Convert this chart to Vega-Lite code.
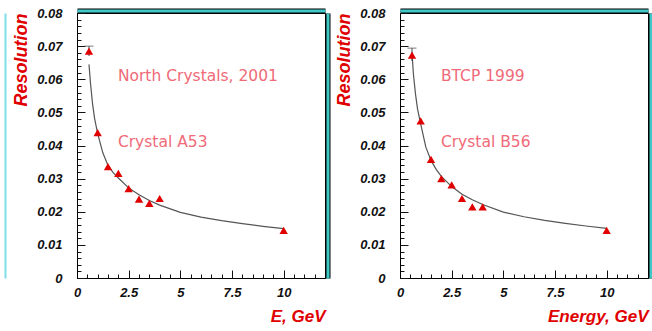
{
  "$schema": "https://vega.github.io/schema/vega-lite/v6.json",
  "background": "white",
  "padding": {"left": 4, "top": 6, "right": 2, "bottom": 2},
  "spacing": 7,
  "config": {
    "view": {"stroke": "#000", "strokeWidth": 1},
    "axis": {"labelFont": "Liberation Sans", "labelFontStyle": "italic", "labelFontWeight": "bold", "labelFontSize": 13, "labelColor": "#111", "titleFont": "Liberation Sans", "titleFontStyle": "italic", "titleFontWeight": "bold", "titleColor": "#e00000", "domainColor": "#000", "labelOverlap": false, "labelFlush": false}
  },
  "hconcat": [
    {
      "width": 248, "height": 265,
      "resolve": {"axis": {"x": "independent", "y": "independent"}},
      "layer": [
        {
          "data": {"values": [{"E":0.58,"R":0.0645},{"E":0.65,"R":0.0590},{"E":0.75,"R":0.0527},{"E":0.85,"R":0.0482},{"E":1.0,"R":0.0436},{"E":1.25,"R":0.0378},{"E":1.5,"R":0.0340},{"E":1.75,"R":0.0318},{"E":2.0,"R":0.0302},{"E":2.5,"R":0.0272},{"E":3.0,"R":0.0251},{"E":3.5,"R":0.0234},{"E":4.0,"R":0.0220},{"E":5.0,"R":0.0198},{"E":6.0,"R":0.0184},{"E":7.0,"R":0.0173},{"E":8.0,"R":0.0164},{"E":9.0,"R":0.0156},{"E":10.0,"R":0.0149}]},
          "mark": {"type": "line", "color": "#555", "strokeWidth": 1.2},
          "encoding": {
            "x": {"field": "E", "type": "quantitative", "scale": {"domain": [0, 12], "nice": false},
              "axis": {"orient": "bottom", "grid": false, "title": "E, GeV", "titleAnchor": "end", "titleFontSize": 17, "titlePadding": 9,
                "values": [0, 2.5, 5, 7.5, 10],
                "labelExpr": "format(datum.value, '~g')",
                "tickSize": 0,
                "labelPadding": 8}},
            "y": {"field": "R", "type": "quantitative", "scale": {"domain": [0, 0.08], "nice": false},
              "axis": {"orient": "left", "grid": false, "title": "Resolution", "titleAnchor": "end", "titleFontSize": 18, "titlePadding": 6,
                "values": [0, 0.01, 0.02, 0.03, 0.04, 0.05, 0.06, 0.07, 0.08],
                "labelExpr": "datum.value == 0 ? '0' : format(datum.value, '.2f')",
                "tickSize": 0,
                "labelPadding": 15}}
          }
        },
        {
          "data": {"values": [{"E":1,"R":0.01}]},
          "mark": {"type": "point", "opacity": 0},
          "encoding": {
            "x": {"field": "E", "type": "quantitative", "scale": {"domain": [0, 12], "nice": false},
              "axis": {"orient": "top", "gridOpacity": 0, "offset": -265, "values": [0,0.5,1,1.5,2,2.5,3,3.5,4,4.5,5,5.5,6,6.5,7,7.5,8,8.5,9,9.5,10,10.5,11,11.5,12], "labels": false, "domain": false, "title": null, "ticks": true, "tickSize": 4, "tickColor": "#111", "tickWidth": 1}},
            "y": {"field": "R", "type": "quantitative", "scale": {"domain": [0, 0.08], "nice": false},
              "axis": {"orient": "right", "gridOpacity": 0, "offset": -248, "values": [0,0.002,0.004,0.006,0.008,0.01,0.012,0.014,0.016,0.018,0.02,0.022,0.024,0.026,0.028,0.03,0.032,0.034,0.036,0.038,0.04,0.042,0.044,0.046,0.048,0.05,0.052,0.054,0.056,0.058,0.06,0.062,0.064,0.066,0.068,0.07,0.072,0.074,0.076,0.078,0.08], "labels": false, "domain": false, "title": null, "ticks": true, "tickSize": 4, "tickColor": "#111", "tickWidth": 1}}
          }
        },
        {
          "data": {"values": [{"E":1,"R":0.01}]},
          "mark": {"type": "point", "opacity": 0},
          "encoding": {
            "x": {"field": "E", "type": "quantitative", "scale": {"domain": [0, 12], "nice": false},
              "axis": {"orient": "top", "gridOpacity": 0, "offset": -265, "values": [0, 2.5, 5, 7.5, 10], "labels": false, "domain": false, "title": null, "ticks": true, "tickSize": 8, "tickColor": "#111", "tickWidth": 1}},
            "y": {"field": "R", "type": "quantitative", "scale": {"domain": [0, 0.08], "nice": false},
              "axis": {"orient": "right", "gridOpacity": 0, "offset": -248, "values": [0, 0.01, 0.02, 0.03, 0.04, 0.05, 0.06, 0.07, 0.08], "labels": false, "domain": false, "title": null, "ticks": true, "tickSize": 8, "tickColor": "#111", "tickWidth": 1}}
          }
        },
        {
          "data": {"values": [{"E":0.58,"lo":0.0670,"hi":0.0700}]},
          "mark": {"type": "rule", "color": "#444", "strokeWidth": 1},
          "encoding": {
            "x": {"field": "E", "type": "quantitative", "scale": {"domain": [0, 12], "nice": false}, "axis": null},
            "y": {"field": "lo", "type": "quantitative", "scale": {"domain": [0, 0.08], "nice": false}, "axis": null},
            "y2": {"field": "hi"}
          }
        },
        {
          "data": {"values": [{"E":0.58,"hi":0.0700}]},
          "mark": {"type": "tick", "orient": "horizontal", "color": "#444", "size": 9, "thickness": 1},
          "encoding": {
            "x": {"field": "E", "type": "quantitative", "scale": {"domain": [0, 12], "nice": false}, "axis": null},
            "y": {"field": "hi", "type": "quantitative", "scale": {"domain": [0, 0.08], "nice": false}, "axis": null}
          }
        },
        {
          "data": {"values": [{"E":0.58,"R":0.0685},{"E":1.0,"R":0.0439},{"E":1.5,"R":0.0336},{"E":2.0,"R":0.0316},{"E":2.5,"R":0.0270},{"E":3.0,"R":0.0238},{"E":3.5,"R":0.0225},{"E":4.0,"R":0.0240},{"E":10.0,"R":0.0144}]},
          "mark": {"type": "point", "shape": "triangle-up", "filled": true, "color": "#e00000", "size": 70, "opacity": 1},
          "encoding": {
            "x": {"field": "E", "type": "quantitative", "scale": {"domain": [0, 12], "nice": false}, "axis": null},
            "y": {"field": "R", "type": "quantitative", "scale": {"domain": [0, 0.08], "nice": false}, "axis": null}
          }
        },
        {
          "data": {"values": [{"E":1.98,"R":0.061,"label":"North Crystals, 2001"},{"E":1.98,"R":0.0411,"label":"Crystal A53"}]},
          "mark": {"type": "text", "align": "left", "baseline": "middle", "font": "DejaVu Sans", "fontSize": 15.5, "color": "#f06a78"},
          "encoding": {
            "x": {"field": "E", "type": "quantitative", "scale": {"domain": [0, 12], "nice": false}, "axis": null},
            "y": {"field": "R", "type": "quantitative", "scale": {"domain": [0, 0.08], "nice": false}, "axis": null},
            "text": {"field": "label"}
          }
        },
        {
          "data": {"values": [{"E":1,"R":0.01}]},
          "mark": {"type": "point", "opacity": 0},
          "encoding": {
            "x": {"field": "E", "type": "quantitative", "scale": {"domain": [0, 12], "nice": false},
              "axis": {"orient": "bottom", "grid": false, "values": [], "title": null, "domainColor": "#000", "domainWidth": 5, "offset": -267.5}},
            "y": {"field": "R", "type": "quantitative", "scale": {"domain": [0, 0.08], "nice": false},
              "axis": {"orient": "left", "grid": false, "values": [], "title": null, "domainColor": "#000", "domainWidth": 5, "offset": -250.5}}
          }
        },
        {
          "data": {"values": [{"E":1,"R":0.01}]},
          "mark": {"type": "point", "opacity": 0},
          "encoding": {
            "x": {"field": "E", "type": "quantitative", "scale": {"domain": [0, 12], "nice": false},
              "axis": {"orient": "bottom", "grid": false, "values": [], "title": null, "domainColor": "#40c8c8", "domainWidth": 3, "offset": -267.5}},
            "y": {"field": "R", "type": "quantitative", "scale": {"domain": [0, 0.08], "nice": false},
              "axis": {"orient": "left", "grid": false, "values": [], "title": null, "domainColor": "#40c8c8", "domainWidth": 3, "offset": -250.5}}
          }
        },
        {
          "data": {"values": [{"E":1,"R":0.01}]},
          "mark": {"type": "point", "opacity": 0},
          "encoding": {
            "x": {"field": "E", "type": "quantitative", "scale": {"domain": [0, 12], "nice": false}, "axis": null},
            "y": {"field": "R", "type": "quantitative", "scale": {"domain": [0, 0.08], "nice": false},
              "axis": {"orient": "left", "grid": false, "values": [], "title": null, "domainColor": "#7fdfe8", "domainWidth": 2, "offset": 72}}
          }
        }
      ]
    },
    {
      "width": 248, "height": 265,
      "resolve": {"axis": {"x": "independent", "y": "independent"}},
      "layer": [
        {
          "data": {"values": [{"E":0.58,"R":0.0680},{"E":0.65,"R":0.0615},{"E":0.75,"R":0.0555},{"E":0.85,"R":0.0510},{"E":1.0,"R":0.0465},{"E":1.25,"R":0.0395},{"E":1.5,"R":0.0355},{"E":1.75,"R":0.0328},{"E":2.0,"R":0.0307},{"E":2.5,"R":0.0276},{"E":3.0,"R":0.0253},{"E":3.5,"R":0.0236},{"E":4.0,"R":0.0222},{"E":5.0,"R":0.0199},{"E":6.0,"R":0.0185},{"E":7.0,"R":0.0174},{"E":8.0,"R":0.0165},{"E":9.0,"R":0.0157},{"E":10.0,"R":0.0150}]},
          "mark": {"type": "line", "color": "#555", "strokeWidth": 1.2},
          "encoding": {
            "x": {"field": "E", "type": "quantitative", "scale": {"domain": [0, 12], "nice": false},
              "axis": {"orient": "bottom", "grid": false, "title": "Energy, GeV", "titleAnchor": "end", "titleFontSize": 17, "titlePadding": 9,
                "values": [0, 2.5, 5, 7.5, 10],
                "labelExpr": "format(datum.value, '~g')",
                "tickSize": 0,
                "labelPadding": 8}},
            "y": {"field": "R", "type": "quantitative", "scale": {"domain": [0, 0.08], "nice": false},
              "axis": {"orient": "left", "grid": false, "title": "Resolution", "titleAnchor": "end", "titleFontSize": 18, "titlePadding": 6,
                "values": [0, 0.01, 0.02, 0.03, 0.04, 0.05, 0.06, 0.07, 0.08],
                "labelExpr": "datum.value == 0 ? '0' : format(datum.value, '.2f')",
                "tickSize": 0,
                "labelPadding": 15}}
          }
        },
        {
          "data": {"values": [{"E":1,"R":0.01}]},
          "mark": {"type": "point", "opacity": 0},
          "encoding": {
            "x": {"field": "E", "type": "quantitative", "scale": {"domain": [0, 12], "nice": false},
              "axis": {"orient": "top", "gridOpacity": 0, "offset": -265, "values": [0,0.5,1,1.5,2,2.5,3,3.5,4,4.5,5,5.5,6,6.5,7,7.5,8,8.5,9,9.5,10,10.5,11,11.5,12], "labels": false, "domain": false, "title": null, "ticks": true, "tickSize": 4, "tickColor": "#111", "tickWidth": 1}},
            "y": {"field": "R", "type": "quantitative", "scale": {"domain": [0, 0.08], "nice": false},
              "axis": {"orient": "right", "gridOpacity": 0, "offset": -248, "values": [0,0.002,0.004,0.006,0.008,0.01,0.012,0.014,0.016,0.018,0.02,0.022,0.024,0.026,0.028,0.03,0.032,0.034,0.036,0.038,0.04,0.042,0.044,0.046,0.048,0.05,0.052,0.054,0.056,0.058,0.06,0.062,0.064,0.066,0.068,0.07,0.072,0.074,0.076,0.078,0.08], "labels": false, "domain": false, "title": null, "ticks": true, "tickSize": 4, "tickColor": "#111", "tickWidth": 1}}
          }
        },
        {
          "data": {"values": [{"E":1,"R":0.01}]},
          "mark": {"type": "point", "opacity": 0},
          "encoding": {
            "x": {"field": "E", "type": "quantitative", "scale": {"domain": [0, 12], "nice": false},
              "axis": {"orient": "top", "gridOpacity": 0, "offset": -265, "values": [0, 2.5, 5, 7.5, 10], "labels": false, "domain": false, "title": null, "ticks": true, "tickSize": 8, "tickColor": "#111", "tickWidth": 1}},
            "y": {"field": "R", "type": "quantitative", "scale": {"domain": [0, 0.08], "nice": false},
              "axis": {"orient": "right", "gridOpacity": 0, "offset": -248, "values": [0, 0.01, 0.02, 0.03, 0.04, 0.05, 0.06, 0.07, 0.08], "labels": false, "domain": false, "title": null, "ticks": true, "tickSize": 8, "tickColor": "#111", "tickWidth": 1}}
          }
        },
        {
          "data": {"values": [{"E":0.58,"lo":0.0655,"hi":0.0694}]},
          "mark": {"type": "rule", "color": "#444", "strokeWidth": 1},
          "encoding": {
            "x": {"field": "E", "type": "quantitative", "scale": {"domain": [0, 12], "nice": false}, "axis": null},
            "y": {"field": "lo", "type": "quantitative", "scale": {"domain": [0, 0.08], "nice": false}, "axis": null},
            "y2": {"field": "hi"}
          }
        },
        {
          "data": {"values": [{"E":0.58,"hi":0.0694}]},
          "mark": {"type": "tick", "orient": "horizontal", "color": "#444", "size": 9, "thickness": 1},
          "encoding": {
            "x": {"field": "E", "type": "quantitative", "scale": {"domain": [0, 12], "nice": false}, "axis": null},
            "y": {"field": "hi", "type": "quantitative", "scale": {"domain": [0, 0.08], "nice": false}, "axis": null}
          }
        },
        {
          "data": {"values": [{"E":0.58,"R":0.0673},{"E":1.0,"R":0.0474},{"E":1.5,"R":0.0358},{"E":2.0,"R":0.0300},{"E":2.5,"R":0.0281},{"E":3.0,"R":0.0240},{"E":3.5,"R":0.0215},{"E":4.0,"R":0.0215},{"E":10.0,"R":0.0144}]},
          "mark": {"type": "point", "shape": "triangle-up", "filled": true, "color": "#e00000", "size": 70, "opacity": 1},
          "encoding": {
            "x": {"field": "E", "type": "quantitative", "scale": {"domain": [0, 12], "nice": false}, "axis": null},
            "y": {"field": "R", "type": "quantitative", "scale": {"domain": [0, 0.08], "nice": false}, "axis": null}
          }
        },
        {
          "data": {"values": [{"E":1.98,"R":0.061,"label":"BTCP 1999"},{"E":1.98,"R":0.0411,"label":"Crystal B56"}]},
          "mark": {"type": "text", "align": "left", "baseline": "middle", "font": "DejaVu Sans", "fontSize": 15.5, "color": "#f06a78"},
          "encoding": {
            "x": {"field": "E", "type": "quantitative", "scale": {"domain": [0, 12], "nice": false}, "axis": null},
            "y": {"field": "R", "type": "quantitative", "scale": {"domain": [0, 0.08], "nice": false}, "axis": null},
            "text": {"field": "label"}
          }
        },
        {
          "data": {"values": [{"E":1,"R":0.01}]},
          "mark": {"type": "point", "opacity": 0},
          "encoding": {
            "x": {"field": "E", "type": "quantitative", "scale": {"domain": [0, 12], "nice": false},
              "axis": {"orient": "bottom", "grid": false, "values": [], "title": null, "domainColor": "#000", "domainWidth": 5, "offset": -267.5}},
            "y": {"field": "R", "type": "quantitative", "scale": {"domain": [0, 0.08], "nice": false},
              "axis": {"orient": "left", "grid": false, "values": [], "title": null, "domainColor": "#000", "domainWidth": 5, "offset": -250.5}}
          }
        },
        {
          "data": {"values": [{"E":1,"R":0.01}]},
          "mark": {"type": "point", "opacity": 0},
          "encoding": {
            "x": {"field": "E", "type": "quantitative", "scale": {"domain": [0, 12], "nice": false},
              "axis": {"orient": "bottom", "grid": false, "values": [], "title": null, "domainColor": "#40c8c8", "domainWidth": 3, "offset": -267.5}},
            "y": {"field": "R", "type": "quantitative", "scale": {"domain": [0, 0.08], "nice": false},
              "axis": {"orient": "left", "grid": false, "values": [], "title": null, "domainColor": "#40c8c8", "domainWidth": 3, "offset": -250.5}}
          }
        }
      ]
    }
  ]
}
